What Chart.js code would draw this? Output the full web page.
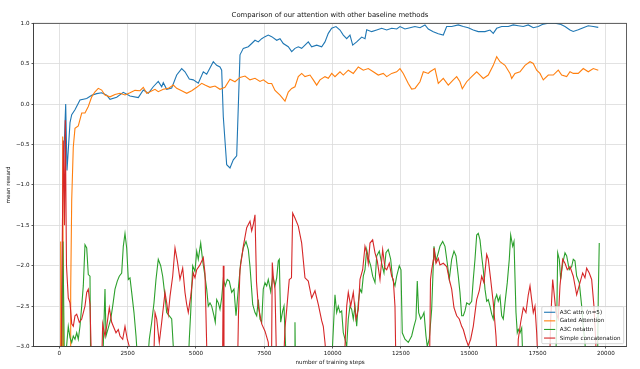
<!DOCTYPE html>
<html>
<head>
<meta charset="utf-8">
<script src="https://cdn.jsdelivr.net/npm/chart.js@4"></script>
<style>
  html, body { margin: 0; padding: 0; background: #fff; }
  #wrap { width: 640px; height: 369px; }
</style>
</head>
<body>
<div id="wrap"><canvas id="c" width="640" height="369"></canvas></div>
<script>
// ---------------- data ----------------
const chartTitle = 'Comparison of our attention with other baseline methods';
const xAxisLabel = 'number of training steps';
const yAxisLabel = 'mean reward';
const seriesLabels = ['A3C attn (n=5)', 'Gated Attention', 'A3C netattn', 'Simple concatenation'];
const xTicks = [0, 2500, 5000, 7500, 10000, 12500, 15000, 17500, 20000];
const yTicks = [-3.0, -2.5, -2.0, -1.5, -1.0, -0.5, 0.0, 0.5, 1.0];

const attnSteps = [154,234,282,392,454,574,757,1003,1186,1368,1551,1734,1855,2100,2342,2587,2891,3074,3257,3439,3622,3747,3805,3930,4113,4296,4479,4599,4757,4903,5086,5269,5393,5635,5759,5880,5942,6001,6125,6246,6367,6491,6612,6733,6916,7040,7161,7282,7406,7527,7647,7772,7955,8076,8196,8379,8504,8624,8745,8869,8990,9111,9235,9418,9601,9722,9843,9967,10125,10271,10392,10516,10637,10736,10882,11065,11186,11248,11431,11614,11797,11980,12163,12346,12466,12649,12832,13015,13198,13381,13502,13685,13868,14051,14175,14358,14600,14783,14965,15148,15331,15577,15759,15880,16005,16188,16429,16612,16795,16978,17161,17344,17527,17710,17893,18138,18321,18504,18687,18807,18990,19173,19356,19539,19722];
const attnReward = [-0.75,0.0,-0.82,-0.23,-0.13,-0.07,0.05,0.07,0.11,0.13,0.14,0.11,0.06,0.085,0.146,0.10,0.08,0.175,0.134,0.215,0.28,0.215,0.265,0.183,0.20,0.36,0.44,0.40,0.31,0.30,0.26,0.40,0.37,0.525,0.48,0.46,0.42,-0.156,-0.75,-0.79,-0.69,-0.64,0.61,0.69,0.71,0.75,0.79,0.77,0.81,0.835,0.855,0.835,0.79,0.81,0.75,0.71,0.65,0.69,0.71,0.69,0.73,0.77,0.71,0.73,0.71,0.77,0.876,0.94,0.96,0.917,0.855,0.81,0.855,0.73,0.77,0.83,0.81,0.92,0.897,0.917,0.938,0.917,0.938,0.93,0.96,0.93,0.946,0.96,0.946,0.98,0.93,0.897,0.87,0.855,0.96,0.96,0.98,0.96,0.946,0.917,0.897,0.897,0.917,0.876,0.938,0.96,0.96,0.98,0.97,0.96,0.98,0.946,0.96,0.99,1.0,1.0,0.99,0.96,0.917,0.9,0.92,0.946,0.97,0.96,0.95];

const gatedSteps = [26,51,80,110,124,154,392,417,454,512,574,695,820,940,1061,1186,1306,1427,1551,1672,1855,2038,2221,2404,2587,2770,2953,3074,3198,3319,3502,3622,3805,3988,4171,4296,4479,4662,4845,5028,5211,5331,5514,5697,5880,6063,6246,6429,6612,6795,6978,7161,7344,7466,7647,7772,7893,8076,8259,8379,8504,8624,8745,8869,8990,9173,9294,9418,9539,9722,9843,9967,10088,10271,10392,10575,10758,10941,11124,11306,11489,11672,11855,11980,12163,12346,12466,12587,12770,12894,13015,13198,13320,13502,13563,13746,13868,14051,14234,14417,14541,14661,14746,14907,15090,15273,15394,15514,15697,15880,16005,16126,16309,16492,16554,16675,16858,17041,17224,17344,17468,17589,17710,17893,18076,18259,18383,18566,18687,18807,18990,19173,19356,19539,19722];
const gatedReward = [-3.3,-1.70,-3.3,-3.3,-0.40,-3.3,-3.3,-2.30,-1.19,-0.53,-0.30,-0.27,-0.11,-0.11,-0.03,0.09,0.153,0.195,0.174,0.113,0.09,0.12,0.134,0.113,0.14,0.17,0.166,0.208,0.134,0.154,0.183,0.154,0.183,0.195,0.236,0.195,0.166,0.134,0.166,0.208,0.257,0.236,0.208,0.224,0.183,0.208,0.307,0.277,0.33,0.348,0.30,0.32,0.28,0.30,0.256,0.256,0.17,0.11,0.037,0.15,0.194,0.215,0.34,0.38,0.34,0.36,0.30,0.235,0.30,0.34,0.32,0.38,0.34,0.40,0.36,0.42,0.38,0.46,0.42,0.44,0.40,0.36,0.38,0.34,0.38,0.40,0.44,0.38,0.256,0.186,0.194,0.277,0.40,0.38,0.40,0.44,0.256,0.318,0.235,0.30,0.34,0.277,0.19,0.277,0.34,0.40,0.36,0.318,0.36,0.48,0.587,0.525,0.48,0.38,0.318,0.38,0.40,0.48,0.525,0.504,0.42,0.38,0.30,0.36,0.36,0.42,0.36,0.34,0.40,0.38,0.38,0.44,0.40,0.44,0.42];

const netSteps = [80,135,190,329,392,454,512,574,637,695,757,820,878,940,1003,1061,1123,1149,1562,1610,1672,1709,1793,1881,1954,2038,2122,2195,2283,2342,2404,2466,2525,2587,2649,2733,2807,2891,3209,3293,3381,3465,3538,3622,3710,3783,3868,3930,4025,4113,4171,4215,4709,4757,4808,4881,4965,5028,5086,5174,5247,5331,5393,5452,5514,5576,5661,5708,5759,5818,5880,5942,6001,6074,6147,6220,6308,6392,6466,6550,6637,6733,6831,6916,6978,7077,7161,7223,7282,7344,7406,7464,7527,7589,7647,7735,7808,7893,7955,8013,8050,8101,8174,8222,8259,8321,8606,8624,8642,9960,10004,10088,10150,10209,10271,10333,10392,10454,10516,10575,10637,10699,10758,10820,10882,10941,11003,11065,11124,11186,11248,11306,11394,11467,11552,11614,11709,11797,11881,11954,12038,12126,12199,12283,12346,12441,12503,12550,12649,12770,12894,12978,13051,13099,13150,13224,13297,13345,13418,13465,13538,13626,13710,13784,13868,13930,14029,14113,14197,14270,14358,14442,14516,14600,14661,14724,14783,14845,14907,15002,15090,15148,15211,15273,15331,15394,15456,15514,15577,15639,15697,15759,15822,15880,15943,16005,16063,16126,16188,16246,16309,16392,16466,16517,16590,16638,16711,16758,16795,16858,16920,16978,18156,18199,18237,18295,18346,18420,18504,18566,18661,18749,18807,18869,18932,19027,19115,19173,19235,19297,19692,19722,19758];
const netReward = [-3.3,-1.70,-3.3,-2.75,-2.89,-2.95,-2.87,-2.91,-2.83,-2.91,-2.75,-2.50,-2.25,-1.74,-1.78,-2.11,-2.13,-3.3,-3.3,-2.99,-2.29,-2.87,-2.77,-2.66,-2.50,-2.29,-2.19,-2.13,-2.09,-1.76,-1.60,-1.78,-2.17,-2.15,-2.33,-2.58,-2.87,-3.3,-3.3,-2.91,-2.70,-2.46,-2.17,-1.92,-2.00,-2.13,-2.38,-2.58,-2.62,-2.66,-3.0,-3.3,-3.3,-2.91,-2.58,-2.00,-2.07,-1.82,-1.92,-1.72,-1.94,-2.13,-2.29,-2.50,-2.46,-2.50,-2.62,-2.70,-2.42,-2.46,-2.54,-2.40,-2.17,-2.25,-2.17,-2.19,-2.33,-2.29,-2.62,-2.29,-1.96,-1.78,-1.70,-1.80,-2.01,-2.48,-2.58,-2.62,-2.42,-2.66,-2.70,-2.29,-2.21,-2.25,-2.17,-2.32,-2.13,-2.25,-2.15,-1.94,-1.92,-2.70,-2.56,-2.50,-2.83,-3.3,-3.3,-2.70,-3.3,-3.3,-2.95,-2.36,-2.58,-2.50,-2.58,-2.56,-2.83,-2.91,-3.0,-2.66,-2.50,-2.54,-2.66,-2.50,-2.75,-2.46,-2.29,-2.33,-2.13,-2.05,-1.80,-1.90,-2.00,-2.13,-2.21,-1.88,-1.82,-1.97,-2.09,-1.84,-1.80,-1.92,-2.17,-2.25,-2.13,-2.00,-2.05,-2.83,-2.91,-2.95,-2.87,-2.75,-2.66,-2.19,-2.58,-2.66,-2.62,-2.58,-2.87,-3.0,-2.91,-2.54,-1.76,-1.94,-1.84,-1.76,-1.70,-1.76,-1.97,-2.17,-1.92,-1.82,-1.88,-2.13,-2.33,-2.62,-2.62,-2.56,-2.46,-2.48,-2.44,-2.17,-1.92,-1.62,-1.60,-1.68,-1.88,-2.05,-2.29,-2.44,-2.42,-2.50,-2.60,-2.66,-2.42,-2.36,-2.44,-2.38,-2.62,-2.66,-2.46,-2.21,-1.92,-1.62,-1.76,-1.70,-2.58,-2.83,-2.79,-2.83,-2.77,-3.3,-3.3,-2.75,-1.84,-1.92,-2.17,-1.97,-1.84,-1.88,-2.05,-2.01,-1.92,-1.94,-2.13,-2.21,-2.50,-2.75,-2.95,-3.3,-3.3,-2.38,-1.72];

const concatSteps = [62,146,190,220,263,329,392,454,512,574,637,732,820,940,1003,1061,1123,1186,1544,1588,1672,1734,1830,1917,1976,2075,2159,2221,2320,2404,2488,2561,2605,3447,3502,3564,3659,3747,3868,3930,3988,4051,4149,4234,4318,4416,4515,4599,4662,4720,4808,4903,4965,5028,5148,5269,5331,5415,5972,6001,6026,6520,6557,6612,6733,6857,6978,7040,7099,7161,7216,7282,7406,7527,7647,7710,7764,7793,7830,7893,7955,8196,8259,8321,8415,8496,8540,8624,8745,8869,8990,9111,9235,9356,9477,9601,9660,9722,9806,10417,10516,10575,10663,10758,10856,10941,11003,11101,11186,11248,11306,11369,11467,11552,11636,11735,11833,11918,11980,12075,12163,12221,12283,12320,13546,13583,13626,13685,13710,13784,13868,13930,14051,14175,14270,14358,14442,14541,14636,14724,14783,14882,14965,15053,15148,15273,15368,15456,15540,15639,15697,15785,15880,15979,16041,16765,16795,16883,16978,17076,17161,17224,17285,17344,17406,17468,17527,17937,17981,18054,18102,18175,18259,18321,18420,18504,18588,18687,18807,18932,19053,19151,19235,19297,19392,19480,19564,19627,19664];
const concatReward = [-3.3,-0.45,-1.5,-0.2,-2.0,-2.40,-2.46,-2.72,-2.75,-2.62,-2.60,-2.70,-2.66,-2.50,-2.33,-2.29,-2.48,-3.3,-3.3,-2.72,-2.87,-2.75,-2.52,-2.70,-2.75,-2.83,-2.79,-2.87,-2.91,-2.75,-2.91,-3.0,-3.3,-3.3,-2.58,-2.66,-2.95,-2.70,-2.33,-2.46,-2.60,-2.38,-2.13,-1.78,-1.94,-2.17,-2.03,-2.33,-2.48,-2.58,-2.38,-2.09,-2.15,-2.05,-1.99,-1.90,-2.09,-3.3,-3.3,-2.00,-3.3,-3.3,-2.60,-2.05,-1.76,-1.53,-1.45,-1.57,-1.49,-1.37,-2.20,-2.50,-2.72,-2.81,-2.95,-3.3,-3.3,-1.96,-2.13,-2.29,-3.3,-3.3,-2.77,-2.54,-2.17,-2.15,-1.35,-1.41,-1.51,-1.72,-2.15,-2.19,-2.40,-2.31,-2.48,-2.68,-2.75,-2.95,-3.3,-3.3,-2.50,-2.33,-2.50,-2.33,-2.66,-2.54,-2.17,-2.05,-1.76,-1.84,-1.97,-1.72,-1.68,-1.84,-1.94,-2.17,-1.80,-2.03,-2.05,-1.97,-2.13,-2.17,-2.50,-3.3,-3.3,-2.17,-2.05,-1.93,-1.78,-1.97,-1.91,-1.99,-1.97,-2.01,-2.17,-2.29,-2.52,-2.62,-2.66,-2.75,-2.79,-2.91,-2.99,-2.91,-2.75,-2.42,-2.31,-2.13,-2.21,-1.86,-1.92,-2.17,-2.46,-2.87,-3.3,-3.3,-2.91,-2.70,-2.52,-2.58,-2.36,-2.25,-2.42,-2.58,-2.50,-2.83,-3.3,-3.3,-2.66,-2.17,-2.33,-2.58,-2.66,-2.25,-1.92,-1.97,-2.05,-2.01,-2.13,-2.36,-2.21,-2.09,-2.15,-2.03,-2.09,-2.17,-2.50,-2.91,-3.3];

// ---------------- chart ----------------
const FONT = "'DejaVu Sans', sans-serif";
const TXT = '#111';
const FS = 5.6;
const toPoints = (xs, ys) => xs.map((x, i) => ({ x: x, y: ys[i] }));

const frame = {
  id: 'frame',
  afterDatasetsDraw(chart) {
    const { ctx, chartArea: a } = chart;
    ctx.save();
    ctx.strokeStyle = '#3a3a3a';
    ctx.lineWidth = 0.8;
    ctx.strokeRect(a.left, a.top, a.right - a.left, a.bottom - a.top);
    ctx.restore();
  }
};

const mplLegend = {
  id: 'mplLegend',
  afterDraw(chart) {
    const { ctx, chartArea: a } = chart;
    const fs = FS;
    const pad = 0.4 * fs, handle = 2 * fs, gap = 0.8 * fs, rowH = 5.8, sp = 0.5 * fs;
    ctx.save();
    ctx.font = fs + 'px ' + FONT;
    const ds = chart.data.datasets;
    let tw = 0;
    ds.forEach(d => { tw = Math.max(tw, ctx.measureText(d.label).width); });
    const w = pad * 2 + handle + gap + tw + 1;
    const h = pad * 2 + ds.length * rowH + (ds.length - 1) * sp + 1;
    const right = a.right - 0.5 * fs, bottom = a.bottom - 0.5 * fs;
    const left = right - w, top = bottom - h;
    ctx.fillStyle = 'rgba(255,255,255,0.8)';
    ctx.strokeStyle = '#cccccc';
    ctx.lineWidth = 0.8;
    ctx.beginPath();
    if (ctx.roundRect) ctx.roundRect(left, top, w, h, 1.2); else ctx.rect(left, top, w, h);
    ctx.fill();
    ctx.stroke();
    ds.forEach((d, i) => {
      const cy = top + pad + 0.5 + i * (rowH + sp) + rowH / 2;
      ctx.strokeStyle = d.borderColor;
      ctx.lineWidth = 1.1;
      ctx.beginPath();
      ctx.moveTo(left + pad, cy);
      ctx.lineTo(left + pad + handle, cy);
      ctx.stroke();
      ctx.fillStyle = TXT;
      ctx.textBaseline = 'middle';
      ctx.textAlign = 'left';
      ctx.fillText(d.label, left + pad + handle + gap, cy);
    });
    ctx.restore();
  }
};

const fmtY = v => Number(v).toFixed(1).replace('-', '\u2212');

new Chart(document.getElementById('c'), {
  type: 'line',
  data: {
    datasets: [
      { label: seriesLabels[0], data: toPoints(attnSteps, attnReward), borderColor: '#1f77b4', order: 4 },
      { label: seriesLabels[1], data: toPoints(gatedSteps, gatedReward), borderColor: '#ff7f0e', order: 3 },
      { label: seriesLabels[2], data: toPoints(netSteps, netReward), borderColor: '#2ca02c', order: 2 },
      { label: seriesLabels[3], data: toPoints(concatSteps, concatReward), borderColor: '#d62728', order: 1 }
    ]
  },
  options: {
    responsive: false,
    animation: false,
    events: [],
    layout: { padding: { left: 0, right: 13.5, top: 0, bottom: 0 } },
    elements: {
      point: { radius: 0 },
      line: { borderWidth: 1.1, tension: 0, fill: false }
    },
    plugins: {
      legend: { display: false },
      tooltip: { enabled: false },
      title: {
        display: true,
        text: chartTitle,
        fullSize: false,
        color: TXT,
        font: { family: FONT, size: 6.85, weight: 'normal', lineHeight: 1.2 },
        padding: { top: 11.5, bottom: 3.6 }
      }
    },
    scales: {
      x: {
        type: 'linear',
        min: -944,
        max: 20755,
        afterBuildTicks: s => { s.ticks = xTicks.map(v => ({ value: v })); },
        afterFit: s => { s.height = 22.5; },
        ticks: {
          callback: v => String(v),
          color: TXT,
          font: { family: FONT, size: FS },
          padding: 1.5,
          maxRotation: 0,
          autoSkip: false
        },
        grid: { color: '#dadada', lineWidth: 0.8, tickLength: 2, tickColor: '#333', drawOnChartArea: true },
        border: { display: true, color: '#3a3a3a', width: 0.8 },
        title: {
          display: true,
          text: xAxisLabel,
          color: TXT,
          font: { family: FONT, size: FS, lineHeight: 1.2 },
          padding: { top: 0, bottom: 3.3 }
        }
      },
      y: {
        min: -3,
        max: 1,
        afterBuildTicks: s => { s.ticks = yTicks.map(v => ({ value: v })); },
        afterFit: s => { s.width = 33.5; },
        ticks: {
          callback: v => fmtY(v),
          color: TXT,
          font: { family: FONT, size: FS },
          padding: 2,
          autoSkip: false
        },
        grid: { color: '#dadada', lineWidth: 0.8, tickLength: 2, tickColor: '#333' },
        border: { display: true, color: '#3a3a3a', width: 0.8 },
        title: {
          display: true,
          text: yAxisLabel,
          color: TXT,
          font: { family: FONT, size: FS, lineHeight: 1.2 },
          padding: { top: 4.8, bottom: 0 }
        }
      }
    }
  },
  plugins: [frame, mplLegend]
});
</script>
</body>
</html>
